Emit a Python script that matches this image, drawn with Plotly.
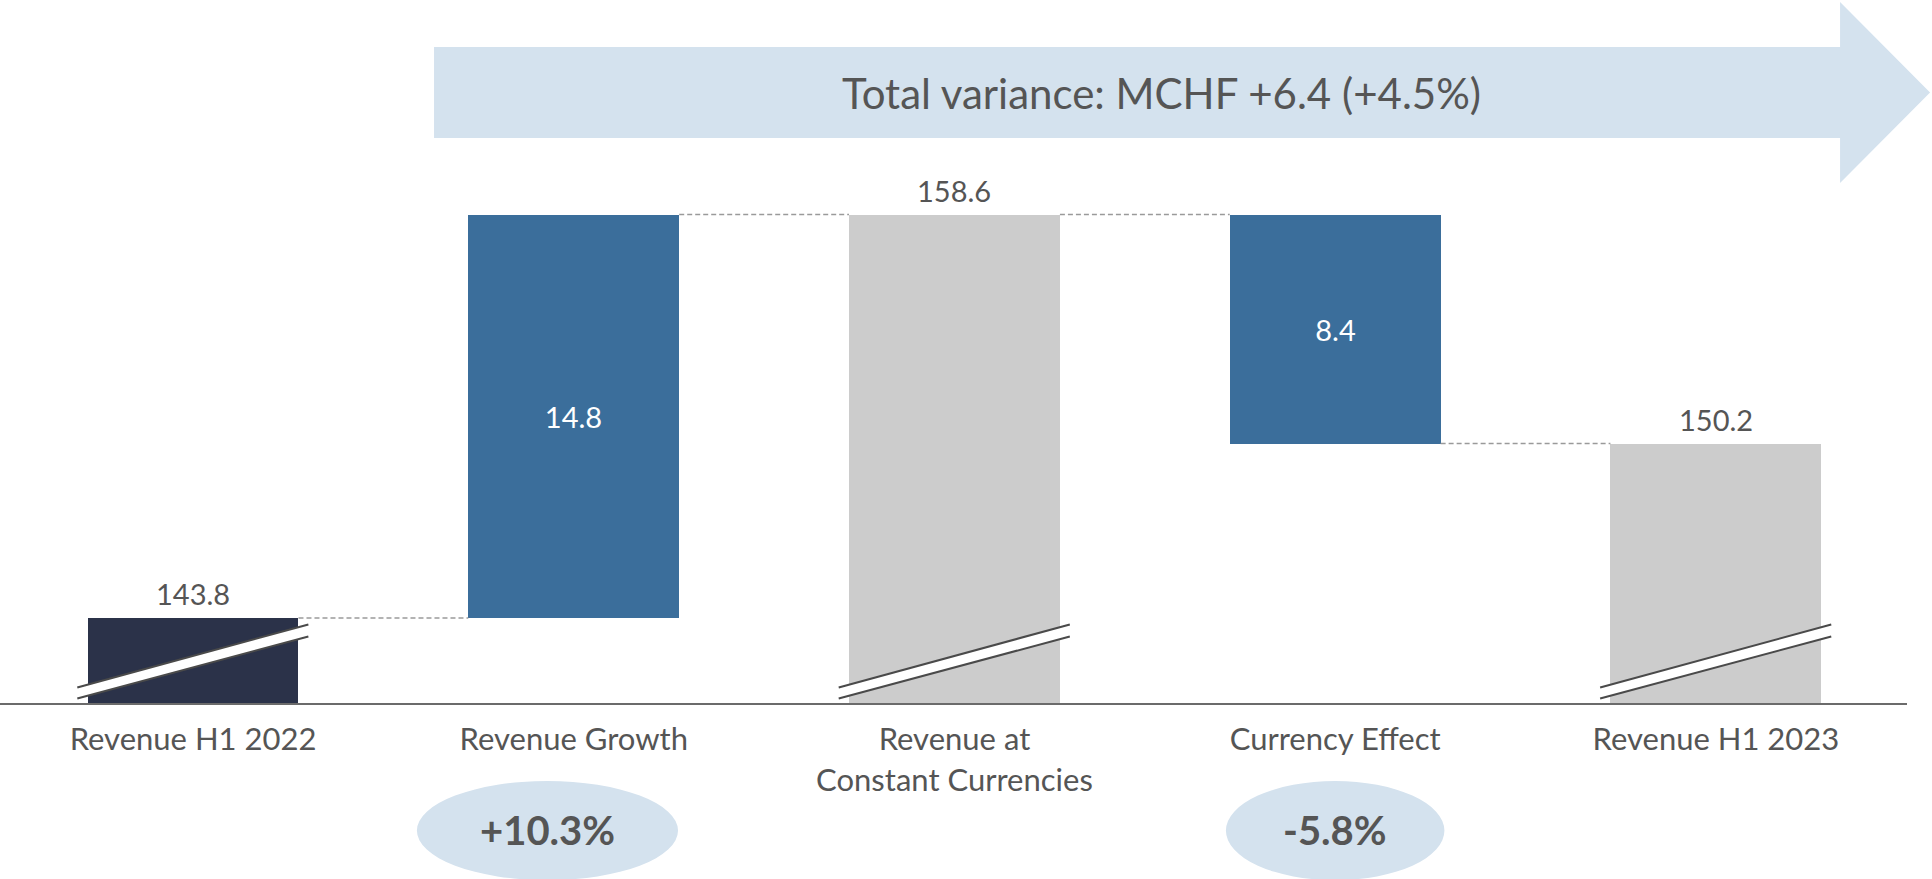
import plotly.graph_objects as go

# chart data
categories = ["Revenue H1 2022", "Revenue Growth", "Revenue at<br>Constant Currencies", "Currency Effect", "Revenue H1 2023"]
values = [143.8, 14.8, 158.6, -8.4, 150.2]
measures = ["total", "relative", "total", "relative", "total"]
growth_idx = [1, 3]
growth_text = ["+10.3%", "-5.8%"]
title_text = "Total variance: MCHF +6.4 (+4.5%)"

NAVY = '#2B3249'
BLUE = '#3B6E9B'
GREY = '#CCCCCC'
LIGHT = '#D4E2EE'
TXT = '#555555'
FONT = 'Lato'

# waterfall geometry
bases, heights, tops = [], [], []
running = 0
for v, m in zip(values, measures):
    if m == 'total':
        bases.append(0)
        heights.append(v)
        running = v
    else:
        bases.append(min(running, running + v))
        heights.append(abs(v))
        running = running + v
    tops.append(running)

colors = [NAVY, BLUE, GREY, BLUE, GREY]
x_idx = list(range(len(categories)))
bar_w = 0.554
y_lo, y_hi = 140.68, 166.47

fig = go.Figure()
fig.add_trace(go.Bar(
    x=x_idx, y=heights, base=bases, width=bar_w, marker_color=colors, marker_line_width=0,
    text=[f'{abs(v):.1f}' if m == 'relative' else '' for v, m in zip(values, measures)],
    textposition='inside', insidetextanchor='middle',
    textfont=dict(color='white', size=29, family=FONT), showlegend=False,
))

# dashed connectors
cx, cy = [], []
for i in range(len(values) - 1):
    cx += [i + bar_w / 2, i + 1 - bar_w / 2, None]
    cy += [tops[i], tops[i], None]
fig.add_trace(go.Scatter(x=cx, y=cy, mode='lines', line=dict(color='#9a9a9a', width=1.5, dash='5px,3px'),
                         showlegend=False, hoverinfo='skip'))

# value labels above total bars
for i, (v, m) in enumerate(zip(values, measures)):
    if m == 'total':
        fig.add_annotation(x=i, y=tops[i], text=f'{v:.1f}', showarrow=False, yshift=24, yanchor='middle',
                           font=dict(size=29, color=TXT, family=FONT))

# axis-break marks on the truncated bars
for i, m in enumerate(measures):
    if m != 'total':
        continue
    xl, xr = i - 0.304, i + 0.303
    ul, ur = y_lo + 0.57, y_lo + 2.88
    ll, lr = y_lo + 0.165, y_lo + 2.44
    fig.add_shape(type='path', path=f'M {xl},{ul} L {xr},{ur} L {xr},{lr} L {xl},{ll} Z',
                  fillcolor='white', line_width=0, xref='x', yref='y')
    fig.add_shape(type='line', x0=xl, y0=ul, x1=xr, y1=ur, line=dict(color='#4a4a4a', width=2))
    fig.add_shape(type='line', x0=xl, y0=ll, x1=xr, y1=lr, line=dict(color='#4a4a4a', width=2))

# big arrow on top
fig.add_shape(type='path', xref='paper', yref='paper', fillcolor=LIGHT, line_width=0, layer='below',
              path='M 0.2276,0.9331 L 0.9649,0.9331 L 0.9649,0.9972 L 1.0121,0.8684 '
                   'L 0.9649,0.7397 L 0.9649,0.8037 L 0.2276,0.8037 Z')
fig.add_annotation(xref='paper', yref='paper', x=0.609, y=0.8684, yanchor='middle', text=title_text,
                   showarrow=False, font=dict(size=42, color=TXT, family=FONT))

# growth ellipses under the chart
ell_off = [-0.069, 0.0]
ell_hw = [0.343, 0.287]
for k, (i, t) in enumerate(zip(growth_idx, growth_text)):
    cxe = i + ell_off[k]
    fig.add_shape(type='circle', xref='x', yref='paper', x0=cxe - ell_hw[k], x1=cxe + ell_hw[k],
                  y0=-0.252, y1=-0.111, fillcolor=LIGHT, line_width=0)
    fig.add_annotation(xref='x', yref='paper', x=cxe, y=-0.1805, yanchor='middle', text=f'<b>{t}</b>',
                       showarrow=False, font=dict(size=40, color=TXT, family=FONT))

fig.update_layout(
    width=1932, height=879,
    margin=dict(l=0, r=25, t=0, b=176),
    paper_bgcolor='white', plot_bgcolor='white',
    bargap=0,
    xaxis=dict(
        tickmode='array', tickvals=x_idx, ticktext=categories,
        range=[-0.507, 4.502], showgrid=False, zeroline=False,
        showline=True, linecolor='#6b6b6b', linewidth=2,
        ticks='outside', ticklen=8, tickcolor='rgba(0,0,0,0)',
        tickfont=dict(size=31, color=TXT, family=FONT),
    ),
    yaxis=dict(range=[y_lo, y_hi], visible=False, showgrid=False, zeroline=False),
    font=dict(family=FONT),
)

fig.write_html("out.html", config={'displayModeBar': False},
               post_script="document.body.style.margin='0';")
